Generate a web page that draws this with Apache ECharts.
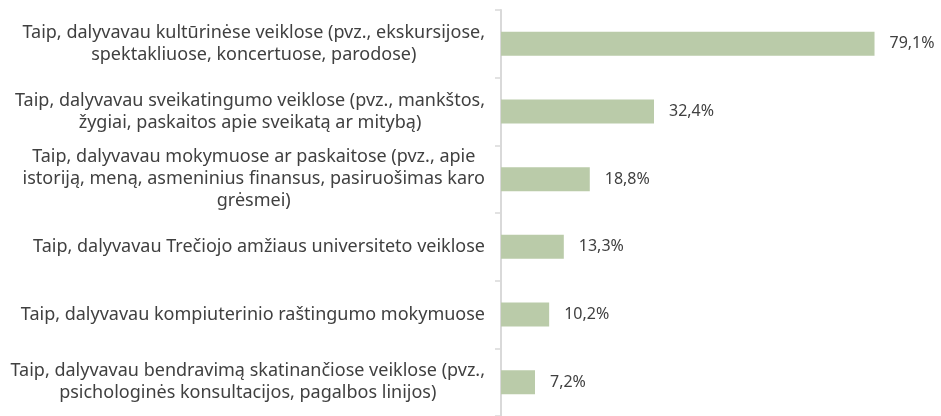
<!DOCTYPE html>
<html>
<head>
<meta charset="utf-8">
<script src="https://cdn.jsdelivr.net/npm/echarts@6/dist/echarts.min.js"></script>
<style>
  html, body { margin: 0; padding: 0; background: #fff; }
  #chart { width: 941px; height: 416px; }
</style>
</head>
<body>
<div id="chart"></div>
<script>
// kategorijos (iš viršaus į apačią)
const categories = [
  'Taip, dalyvavau kultūrinėse veiklose (pvz., ekskursijose,\nspektakliuose, koncertuose, parodose)',
  'Taip, dalyvavau sveikatingumo veiklose (pvz., mankštos,\nžygiai, paskaitos apie sveikatą ar mitybą)',
  'Taip, dalyvavau mokymuose ar paskaitose (pvz., apie\nistoriją, meną, asmeninius finansus, pasiruošimas karo\ngrėsmei)',
  'Taip, dalyvavau Trečiojo amžiaus universiteto veiklose',
  'Taip, dalyvavau kompiuterinio raštingumo mokymuose',
  'Taip, dalyvavau bendravimą skatinančiose veiklose (pvz.,\npsichologinės konsultacijos, pagalbos linijos)'
]
// procentai
const values = [79.1, 32.4, 18.8, 13.3, 10.2, 7.2]

const FONT = 'Noto Sans'
const TEXT_COLOR = '#404040'

const chart = echarts.init(document.getElementById('chart'))

const option = {
  animation: false,
  grid: {
    left: 501,
    right: 15,
    top: 10,
    bottom: -2
  },
  xAxis: {
    type: 'value',
    min: 0,
    max: 90,
    show: false
  },
  yAxis: {
    type: 'category',
    inverse: true,
    data: categories,
    axisLine: {
      show: true,
      lineStyle: { color: '#d9d9d9', width: 2 }
    },
    axisTick: {
      show: true,
      length: 6,
      lineStyle: { color: '#d9d9d9', width: 1.5 }
    },
    axisLabel: {
      margin: 16,
      align: 'right',
      // kiekviena eilutė centruojama bloko viduje
      formatter: v => v.split('\n').map(l => '{c|' + l + '}').join('\n'),
      rich: {
        c: {
          align: 'center',
          fontFamily: FONT,
          fontSize: 18,
          lineHeight: 22,
          color: TEXT_COLOR
        }
      }
    }
  },
  series: [{
    type: 'bar',
    data: values,
    barWidth: 24,
    itemStyle: { color: '#bacba9' },
    label: {
      show: true,
      position: 'right',
      distance: 15,
      fontFamily: FONT,
      fontSize: 16,
      color: TEXT_COLOR,
      formatter: p => p.value.toFixed(1).replace('.', ',') + '%'
    }
  }]
}

chart.setOption(option)
</script>
</body>
</html>
